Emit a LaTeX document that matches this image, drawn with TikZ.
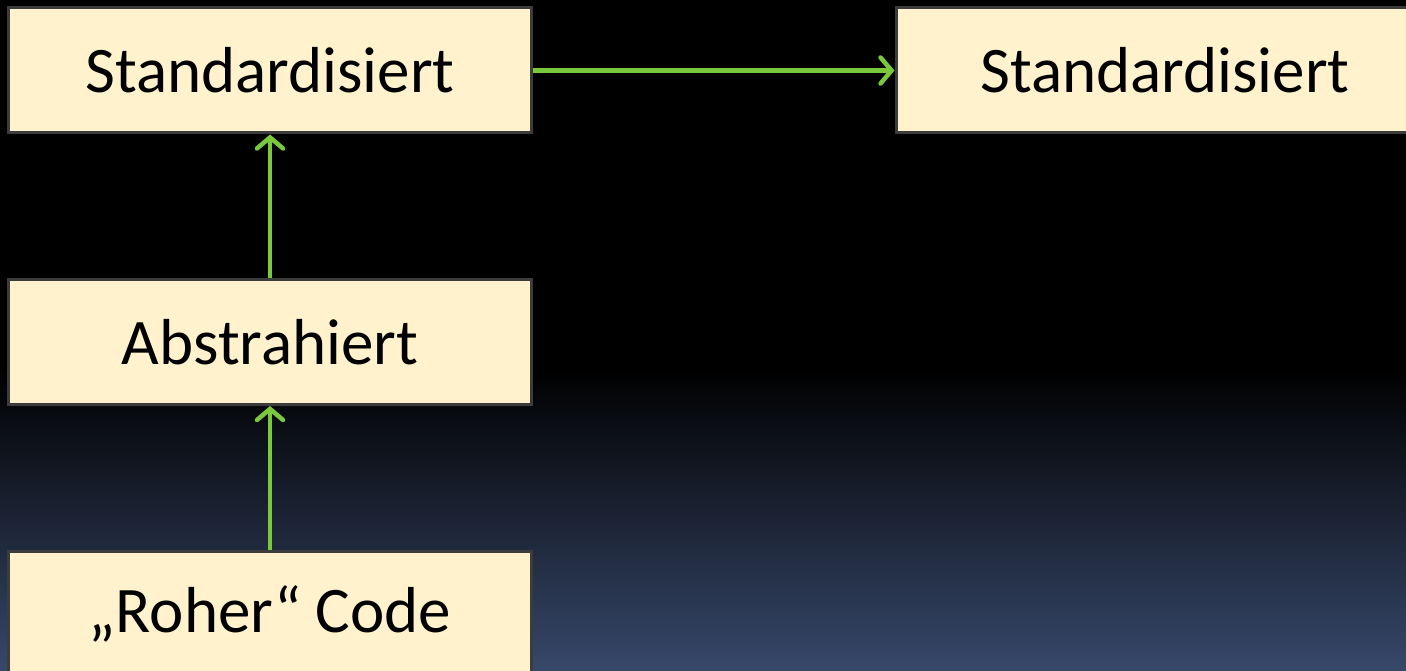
\documentclass[tikz,border=0pt]{standalone}
\usepackage{fontspec}
\setmainfont{Carlito}
\usetikzlibrary{arrows.meta}
\definecolor{boxfill}{RGB}{255,242,204}
\definecolor{boxline}{RGB}{60,60,60}
\definecolor{arrowgreen}{RGB}{122,201,60}
\definecolor{bgbottom}{RGB}{55,72,106}
\tikzset{
  stepbox/.style={draw=boxline, line width=3pt, fill=boxfill, rectangle,
    minimum width=523pt, minimum height=125pt, inner sep=0pt,
    font=\fontsize{65}{78}\selectfont, text=black},
  flow/.style={draw=arrowgreen, line width=4.5pt,
    -{Straight Barb[length=11pt,width=26pt,line cap=round]}}
}
\begin{document}
\begin{tikzpicture}[x=1pt,y=-1pt]
\useasboundingbox (0,0) rectangle (1406,671);
\clip (0,0) rectangle (1406,671);
\fill[black] (0,0) rectangle (1406,372);
\shade[top color=black, bottom color=bgbottom] (0,370) rectangle (1406,671);
\node[stepbox] (std1) at (270,70.5) {Standardisiert};
\node[stepbox, minimum width=538pt] (std2) at (1165,70.5) {Standardisiert};
\node[stepbox] (abs) at (270,342) {Abstrahiert};
\node[stepbox] (raw) at (270,614) {„Roher“ Code};
\draw[flow] (abs.north) -- (std1.south);
\draw[flow] (raw.north) -- (abs.south);
\draw[flow] (std1.east) -- (std2.west);
\end{tikzpicture}
\end{document}
